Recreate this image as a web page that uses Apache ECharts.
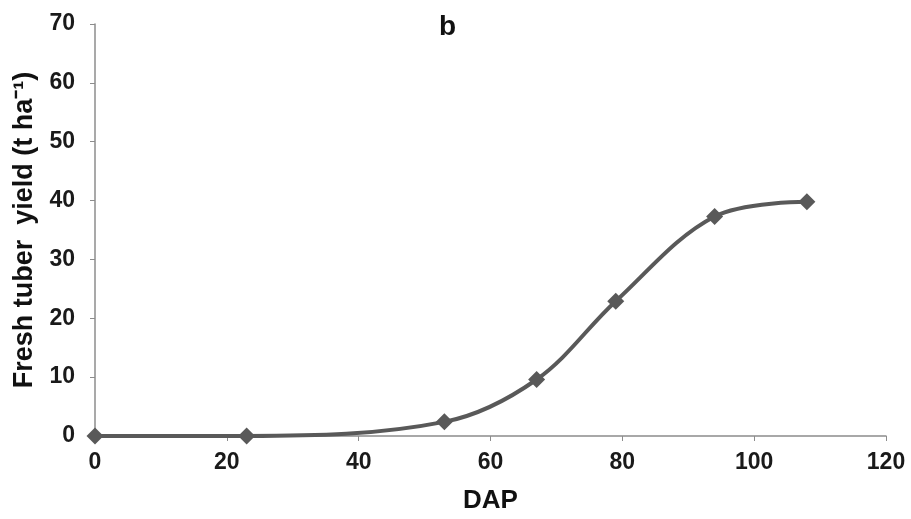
<!DOCTYPE html>
<html>
<head>
<meta charset="utf-8">
<script src="https://cdn.jsdelivr.net/npm/echarts@6/dist/echarts.min.js"></script>
<style>
  html, body { margin: 0; padding: 0; background: #fff; }
  #main { width: 911px; height: 519px; }
</style>
</head>
<body>
<div id="main"></div>
<script>
// days after planting and fresh tuber yield
var dap = [0, 23, 53, 67, 79, 94, 108];
var tuberYield = [0, 0, 2.4, 9.6, 22.9, 37.3, 39.8];

var xTicks = [0, 20, 40, 60, 80, 100, 120];
var yTicks = [0, 10, 20, 30, 40, 50, 60, 70];

var points = [];
for (var i = 0; i < dap.length; i++) {
    points.push([dap[i], tuberYield[i]]);
}

var myChart = echarts.init(document.getElementById('main'));
var axisGray = '#8c8c8c';
var font = 'Liberation Sans, Arial, sans-serif';

var option = {
    animation: false,
    backgroundColor: '#fff',
    title: {
        text: 'b',
        left: 434,
        top: 8,
        textStyle: { fontFamily: font, fontSize: 28, fontWeight: 'bold', color: '#111' }
    },
    grid: { left: 95, right: 25, top: 24, bottom: 82 },
    xAxis: {
        type: 'value',
        min: xTicks[0],
        max: xTicks[xTicks.length - 1],
        interval: 20,
        name: 'DAP',
        nameLocation: 'middle',
        nameGap: 52,
        nameTextStyle: { fontFamily: font, fontSize: 26, fontWeight: 'bold', color: '#111' },
        axisLine: { lineStyle: { color: axisGray, width: 1.5 } },
        axisTick: { show: true, length: 5, lineStyle: { color: axisGray } },
        axisLabel: { margin: 15, fontFamily: font, fontSize: 23, fontWeight: 'bold', color: '#1a1a1a' },
        splitLine: { show: false }
    },
    yAxis: {
        type: 'value',
        min: yTicks[0],
        max: yTicks[yTicks.length - 1],
        interval: 10,
        name: 'Fresh tuber  yield (t ha\u207B\u00B9)',
        nameLocation: 'middle',
        nameGap: 57,
        nameTextStyle: { fontFamily: font, fontSize: 27, fontWeight: 'bold', color: '#111' },
        axisLine: { show: true, lineStyle: { color: axisGray, width: 1.5 } },
        axisTick: { show: true, length: 5, lineStyle: { color: axisGray } },
        axisLabel: { margin: 20, fontFamily: font, fontSize: 23, fontWeight: 'bold', color: '#1a1a1a' },
        splitLine: { show: false }
    },
    series: [
        {
            type: 'line',
            data: points,
            smooth: 0.35,
            symbol: 'diamond',
            symbolSize: 17,
            lineStyle: { color: '#595959', width: 4 },
            itemStyle: { color: '#595959' }
        }
    ]
};

myChart.setOption(option);
</script>
</body>
</html>
